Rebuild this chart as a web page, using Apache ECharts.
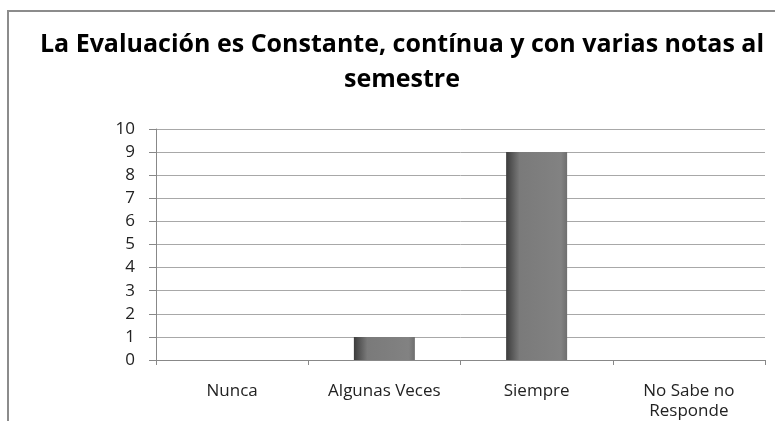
<!DOCTYPE html>
<html>
<head>
<meta charset="utf-8">
<script src="https://cdn.jsdelivr.net/npm/echarts@6/dist/echarts.min.js"></script>
<style>
  html, body { margin: 0; padding: 0; background: #fff; }
  #chart { width: 775px; height: 421px; }
</style>
</head>
<body>
<div id="chart"></div>
<script>
// datos
var titulo = "La Evaluación es Constante, contínua y con varias notas al\nsemestre";
var categorias = ["Nunca", "Algunas Veces", "Siempre", "No Sabe no\nResponde"];
var valores = [0, 1, 9, 0];

var myChart = echarts.init(document.getElementById("chart"));

var barColor = new echarts.graphic.LinearGradient(0, 0, 1, 0, [
  { offset: 0, color: "#3c3c3c" },
  { offset: 0.22, color: "#7a7a7a" },
  { offset: 0.9, color: "#828282" },
  { offset: 1, color: "#6e6e6e" }
]);

var option = {
  animation: false,
  backgroundColor: "#fff",
  graphic: [
    {
      type: "rect",
      shape: { x: 8, y: 11, width: 820, height: 430 },
      style: { fill: "none", stroke: "#8c8c8c", lineWidth: 2 },
      silent: true
    }
  ],
  title: {
    text: titulo,
    left: 397,
    top: 22,
    textAlign: "center",
    textStyle: {
      fontFamily: "Open Sans",
      fontWeight: "bold",
      fontSize: 25,
      lineHeight: 35,
      color: "#000"
    }
  },
  grid: {
    left: 156,
    right: 10,
    top: 129,
    bottom: 55,
    containLabel: false
  },
  xAxis: {
    type: "category",
    data: categorias,
    axisLine: { lineStyle: { color: "#888", width: 1 } },
    axisTick: { show: true, length: 5, alignWithLabel: false, lineStyle: { color: "#888" } },
    axisLabel: {
      color: "#222",
      fontFamily: "Open Sans",
      fontSize: 17,
      margin: 21,
      lineHeight: 20,
      interval: 0
    }
  },
  yAxis: {
    type: "value",
    min: 0,
    max: 10,
    interval: 1,
    axisLine: { show: true, lineStyle: { color: "#888", width: 1 } },
    axisTick: { show: true, length: 7, lineStyle: { color: "#888" } },
    splitLine: { show: true, lineStyle: { color: "#a8a8a8", width: 1 } },
    axisLabel: {
      color: "#222",
      fontFamily: "Open Sans",
      fontSize: 17,
      margin: 21
    }
  },
  series: [
    {
      type: "bar",
      data: valores,
      barWidth: 61,
      itemStyle: {
        color: barColor,
        borderWidth: 0
      }
    }
  ]
};

myChart.setOption(option);
window.onresize = myChart.resize;
</script>
</body>
</html>
